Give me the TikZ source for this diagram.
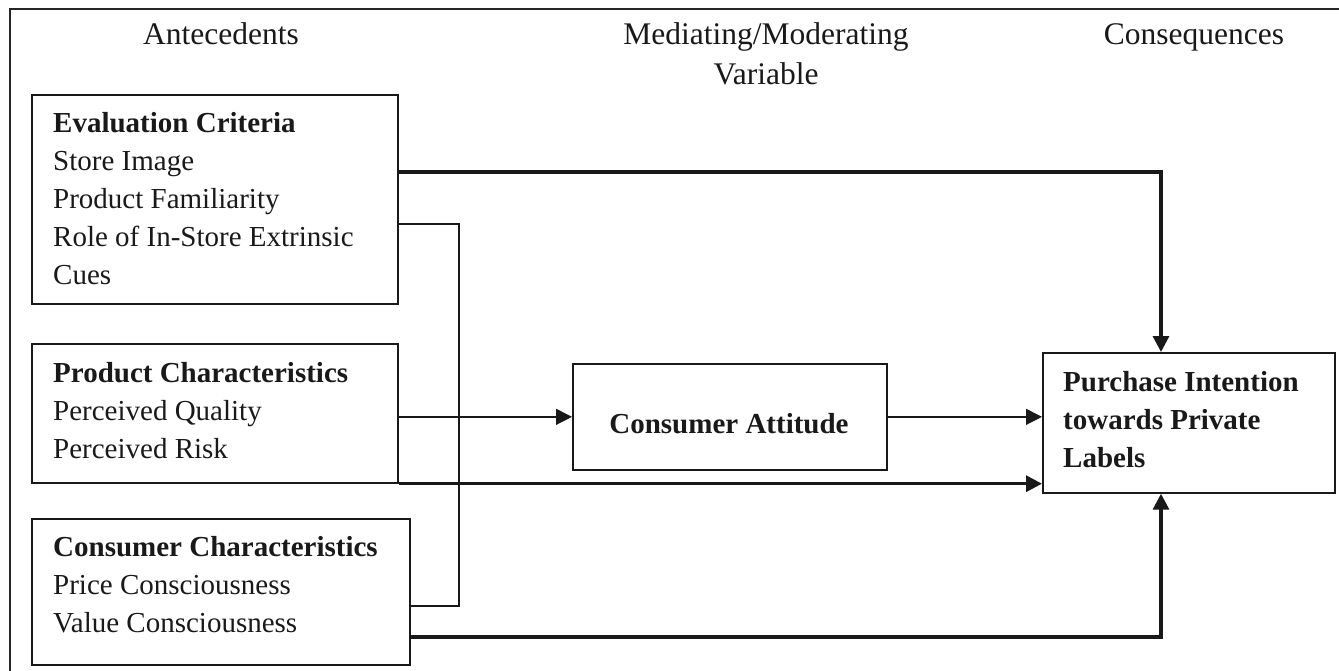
\documentclass[tikz,border=0pt]{standalone}
\usepackage{fontspec}
\setmainfont{Liberation Serif}
\usetikzlibrary{arrows.meta}
\tikzset{
  box/.style={draw=black!90, line width=1.7pt, rectangle, inner sep=0pt, anchor=north west},
  bodytext/.style={inner sep=0pt, anchor=north west, align=left, font=\fontsize{29}{38}\selectfont, text=black!90},
  headtext/.style={inner sep=0pt, anchor=base, align=center, font=\fontsize{31.5}{40}\selectfont, text=black!90},
  thinline/.style={draw=black!90, line width=1.3pt},
  thickline/.style={draw=black!90, line width=3.2pt},
  tip/.style={-{Triangle[length=16pt,width=16pt]}},
}
\begin{document}
\begin{tikzpicture}[x=1pt,y=-1pt]
\useasboundingbox (0,0) rectangle (1339,671);
% outer frame (top and left edges)
\coordinate (ftl) at (10,9);
\coordinate (ftr) at (1345,9);
\coordinate (fbl) at (10,680);
\draw[draw=black!85, line width=1.3pt] (ftr) -- (ftl) -- (fbl);

% headers (base anchor = baseline of last line)
\node[headtext] (hA) at (221,45) {Antecedents};
\node[headtext] (hM) at (766,85) {Mediating/Moderating\\Variable};
\node[headtext] (hC) at (1194,45) {Consequences};

% boxes
\node[box, minimum width=366pt, minimum height=209pt] (ec) at (31,94) {};
\node[box, minimum width=366pt, minimum height=139pt] (pc) at (31,343) {};
\node[box, minimum width=378pt, minimum height=146pt] (cc) at (31,518) {};
\node[box, minimum width=314pt, minimum height=106pt] (ca) at (572,363) {};
\node[box, minimum width=292pt, minimum height=140pt] (pi) at (1042,352) {};

% box texts
\node[bodytext] (ect) at (53,112) {\textbf{Evaluation Criteria}\\Store Image\\Product Familiarity\\Role of In-Store Extrinsic\\Cues};
\node[bodytext] (pct) at (53,362) {\textbf{Product Characteristics}\\Perceived Quality\\Perceived Risk};
\node[bodytext] (cct) at (53,536) {\textbf{Consumer Characteristics}\\Price Consciousness\\Value Consciousness};
\node[bodytext] (pit) at (1063,371) {\textbf{Purchase Intention}\\\textbf{towards Private}\\\textbf{Labels}};
\node[headtext, font=\fontsize{29}{38}\selectfont\bfseries] (cat) at (729,433) {Consumer Attitude};

% junction coordinates
\coordinate (j1) at (1161,172);
\coordinate (j2) at (459,224);
\coordinate (j3) at (459,606);
\coordinate (j4) at (1161,637);

% connectors
\draw[thickline, tip] (ec.east |- j1) -| (j1 |- pi.north);
\draw[thinline] (ec.east |- j2) -- (j2) -- (j3) -- (cc.east |- j3);
\draw[thinline, tip] (pc.east |- ca.west) -- (ca.west);
\draw[thinline, tip] (ca.east) -- (ca.east -| pi.west);
\draw[thickline, tip] (pc.south east) -- (pc.south east -| pi.west);
\draw[thickline, tip] (cc.east |- j4) -| (j4 |- pi.south);
\end{tikzpicture}
\end{document}
